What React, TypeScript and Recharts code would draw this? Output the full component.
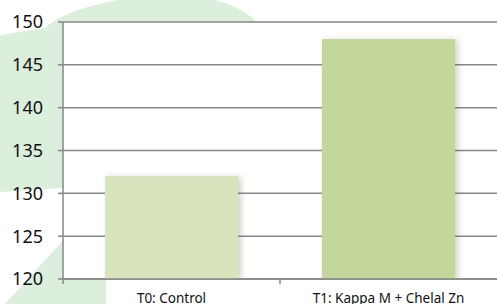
import React from "react";
import { BarChart, Bar, XAxis, YAxis, CartesianGrid, Cell } from "recharts";

const categories: string[] = ["T0: Control", "T1: Kappa M + Chelal Zn"];
const values: number[] = [132, 148];
const barColors: string[] = ["#D7E4BD", "#C3D69B"];
const yTicks: number[] = [120, 125, 130, 135, 140, 145, 150];

const data = categories.map((name, i) => ({ name, value: values[i] }));

const W = 497;
const H = 304;
const LEFT = 63;
const AXIS_Y = 279;
const HALF_BAND = (W - LEFT) / categories.length / 2;

const XTick = (props: any) => {
  const { x, payload } = props;
  const bx = Number(x) - HALF_BAND;
  return (
    <g>
      <line x1={bx} x2={bx} y1={AXIS_Y} y2={AXIS_Y + 5} stroke="#878787" strokeWidth={1.5} />
      <text x={x} y={303} textAnchor="middle" fontSize={13.5} fill="#111" fontFamily="'Noto Sans', sans-serif">
        {payload.value}
      </text>
    </g>
  );
};

const ShadowBar = (props: any) => {
  const { x, y, width, height, fill } = props;
  return (
    <rect
      x={x}
      y={y}
      width={width}
      height={height}
      fill={fill}
      style={{ filter: "drop-shadow(3px 1px 3px rgba(60,80,30,0.25))" }}
    />
  );
};

export default function App() {
  return (
    <div style={{ position: "absolute", left: 0, top: 0, width: W, height: H, background: "#fff" }}>
      {/* faint green watermark behind the chart */}
      <svg width={W} height={H} style={{ position: "absolute", left: 0, top: 0 }}>
        <path d="M0,35 L45,28 Q60,14 95,5 Q160,-12 215,0 Q245,8 258,24 L258,175 L0,192 Z" fill="#DCEEDC" />
        <path d="M5,304 L80,222 L106,222 L106,304 Z" fill="#DCEEDC" />
      </svg>
      <div style={{ position: "absolute", left: 0, top: 0 }}>
        <BarChart
          width={W}
          height={H}
          data={data}
          margin={{ top: 22, right: 0, left: 0, bottom: 0 }}
          barSize={133}
        >
          <CartesianGrid vertical={false} stroke="#878787" strokeWidth={1.5} fill="#fff" fillOpacity={1} />
          <XAxis
            dataKey="name"
            height={H - AXIS_Y}
            tickLine={false}
            axisLine={{ stroke: "#878787", strokeWidth: 1.5 }}
            tick={<XTick />}
            interval={0}
          />
          <YAxis
            domain={[120, 150]}
            ticks={yTicks}
            width={LEFT}
            tickSize={5}
            tickMargin={15}
            allowDataOverflow
            axisLine={{ stroke: "#878787", strokeWidth: 1.5 }}
            tickLine={{ stroke: "#878787", strokeWidth: 1.5 }}
            tick={{ fontSize: 18, fill: "#111", fontFamily: "'Noto Sans', sans-serif" }}
          />
          <Bar dataKey="value" isAnimationActive={false} shape={<ShadowBar />}>
            {data.map((d, i) => (
              <Cell key={d.name} fill={barColors[i]} />
            ))}
          </Bar>
        </BarChart>
      </div>
    </div>
  );
}
